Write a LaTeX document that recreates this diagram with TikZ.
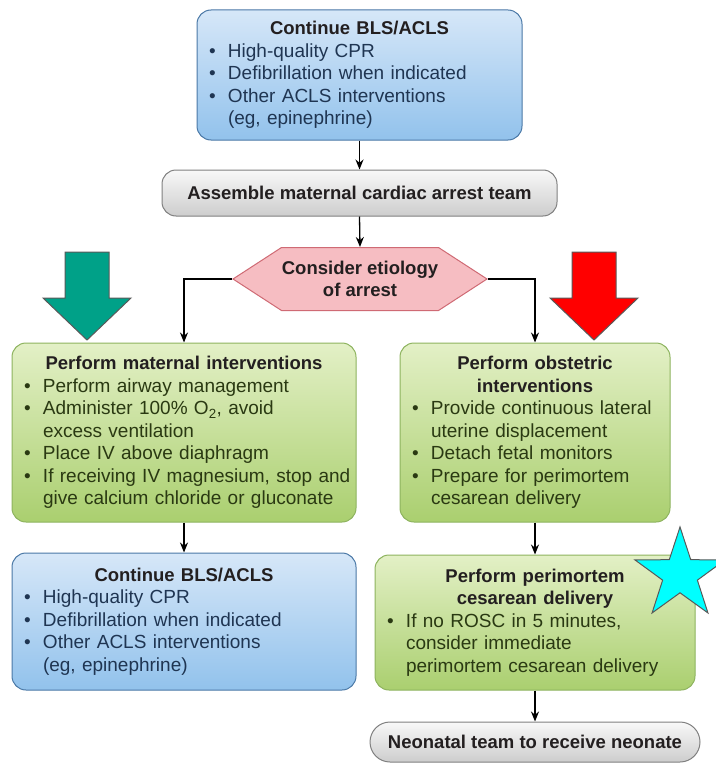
\documentclass[tikz,border=0pt]{standalone}
\usepackage{fontspec}
\setmainfont{Liberation Sans}
\usetikzlibrary{arrows.meta,shapes.geometric,shapes.symbols}

\definecolor{bluetop}{HTML}{D6E7F8}
\definecolor{bluebot}{HTML}{92C2EC}
\definecolor{blueline}{HTML}{4A78A6}
\definecolor{greentop}{HTML}{E3F0C6}
\definecolor{greenbot}{HTML}{AACF6F}
\definecolor{greenline}{HTML}{8DB35E}
\definecolor{graytop}{HTML}{F8F8F8}
\definecolor{graybot}{HTML}{CDCDCD}
\definecolor{grayline}{HTML}{808080}
\definecolor{hexfill}{HTML}{F6BDC2}
\definecolor{hexline}{HTML}{CF6A74}
\definecolor{tealarrow}{HTML}{00A188}
\definecolor{starfill}{HTML}{00FFFF}
\definecolor{txtdark}{HTML}{231F20}
\definecolor{txtblue}{HTML}{1F3552}
\definecolor{txtgreen}{HTML}{2A3912}

\newlength\bulw \setlength\bulw{19pt}
\newcommand\bodyfont{\fontsize{19}{22.5}\selectfont}
\newcommand\headfont{\fontsize{18.5}{22.5}\selectfont\bfseries}
\newcommand\boxhead[1]{{\centering\headfont\color{txtdark}#1\par}}
\newcommand\itm[1]{\par\noindent\makebox[\bulw][l]{\textbullet}\mbox{#1}}
\newcommand\cnt[1]{\par\noindent\hspace*{\bulw}\mbox{#1}}

\tikzset{
  box/.style={rectangle, rounded corners=14pt, draw, line width=1pt,
    inner xsep=12pt, inner ysep=0pt, align=left, font=\bodyfont},
  bluebox/.style={box, top color=bluetop, bottom color=bluebot, draw=blueline, text=txtblue},
  greenbox/.style={box, top color=greentop, bottom color=greenbot, draw=greenline, text=txtgreen},
  graybox/.style={rectangle, rounded corners=#1, draw=grayline, line width=1pt,
    top color=graytop, bottom color=graybot, font=\headfont, text=txtdark},
  conn/.style={line width=1.3pt, -{Stealth[length=10pt,width=8pt]}},
  bigarrow/.style={draw=black!65, line width=1pt},
}

\begin{document}
\begin{tikzpicture}[x=1pt,y=-1pt]
	\useasboundingbox (0,0) rectangle (715,765);

	\node[bluebox, text width=301pt, minimum height=130pt] (bls) at (359.5,75)
		{\boxhead{Continue BLS/ACLS}\itm{High-quality CPR}\itm{Defibrillation when indicated}%
		 \itm{Other ACLS interventions}\cnt{(eg, epinephrine)}};
	\node[graybox=14pt, minimum width=395pt, minimum height=46pt] (team) at (359.5,193)
		{Assemble maternal cardiac arrest team};
	\node[signal, signal to=east and west, signal pointer angle=66, draw=hexline, fill=hexfill,
		line width=1pt, minimum width=254pt, minimum height=63pt, inner sep=0pt,
		font=\headfont, text=txtdark, align=center] (etio) at (360,279) {Consider etiology\\of arrest};

	\node[greenbox, text width=320pt, minimum height=179pt] (matL) at (184,432.5)
		{\boxhead{Perform maternal interventions}\itm{Perform airway management}%
		 \itm{Administer 100\% O\textsubscript{2}, avoid}\cnt{excess ventilation}%
		 \itm{Place IV above diaphragm}\itm{If receiving IV magnesium, stop and}%
		 \cnt{give calcium chloride or gluconate}};
	\node[greenbox, text width=246pt, minimum height=179pt] (obs) at (535,432.5)
		{\boxhead{Perform obstetric\\interventions}\itm{Provide continuous lateral}%
		 \cnt{uterine displacement}\itm{Detach fetal monitors}\itm{Prepare for perimortem}%
		 \cnt{cesarean delivery}};

	\node[bluebox, text width=320pt, minimum height=137pt] (blsL) at (184,621.5)
		{\boxhead{Continue BLS/ACLS}\itm{High-quality CPR}\itm{Defibrillation when indicated}%
		 \itm{Other ACLS interventions}\cnt{(eg, epinephrine)}};
	\node[greenbox, text width=296pt, minimum height=135pt] (cs) at (535,622.5)
		{\boxhead{Perform perimortem\\cesarean delivery}\itm{If no ROSC in 5 minutes,}%
		 \cnt{consider immediate}\cnt{perimortem cesarean delivery}};
	\node[graybox=20pt, minimum width=330pt, minimum height=40pt] (neo) at (535,742)
		{Neonatal team to receive neonate};

	\draw[conn] (bls.south) -- (team.north);
	\draw[conn] (team.south) -- (etio.north);
	\draw[conn] (etio.west) -| (matL.north);
	\draw[conn] (etio.east) -| (obs.north);
	\draw[conn] (matL.south) -- (blsL.north);
	\draw[conn] (obs.south) -- (cs.north);
	\draw[conn] (cs.south) -- (neo.north);

	% big arrows and star
	\filldraw[bigarrow, fill=tealarrow] (65,252) -- (109,252) -- (109,298) -- (131,298)
		-- (87,340) -- (43,298) -- (65,298) -- cycle;
	\filldraw[bigarrow, fill=red] (572,252) -- (616,252) -- (616,298) -- (638,298)
		-- (594,340) -- (550,298) -- (572,298) -- cycle;
	\node[star, star points=5, star point ratio=2.6, minimum size=95pt, inner sep=0pt,
		fill=starfill, draw=black!65, line width=1pt] (mark) at (680,574.5) {};
\end{tikzpicture}
\end{document}
